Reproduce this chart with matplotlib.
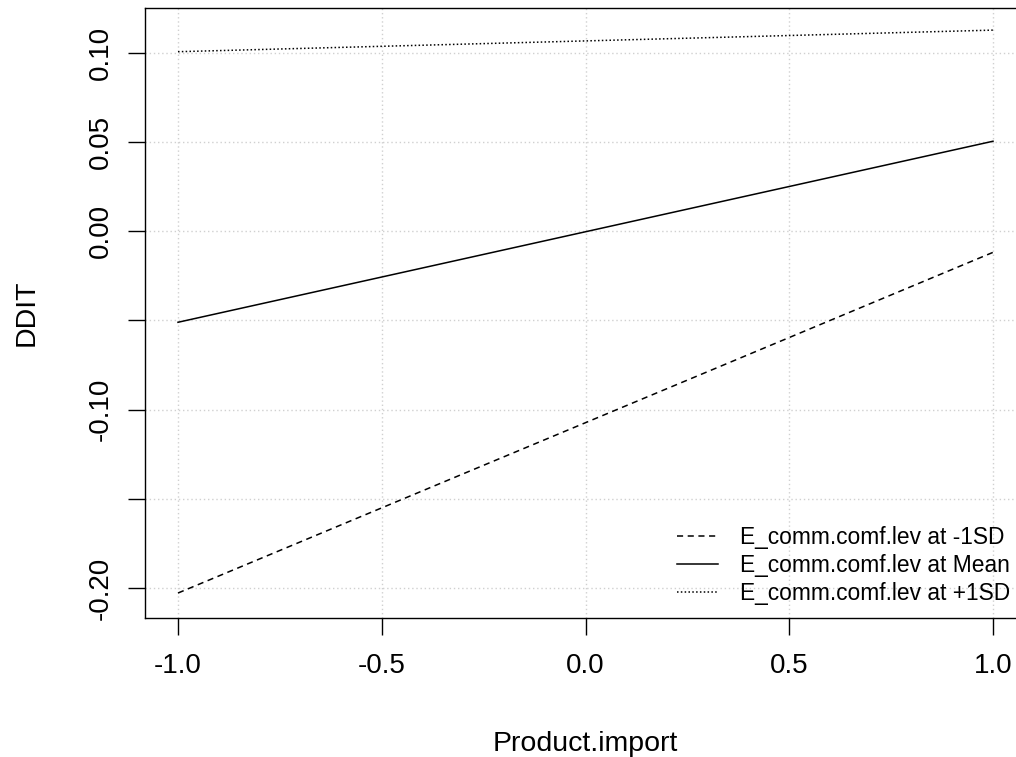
import matplotlib
matplotlib.use("Agg")
import matplotlib.pyplot as plt

plt.rcParams["font.family"] = ["Liberation Sans", "DejaVu Sans"]

# simple slopes of DDIT on Product.import
x_vals = [-1.0, 1.0]
minus_sd = [-0.2028, -0.0118]
at_mean = [-0.0510, 0.0505]
plus_sd = [0.1007, 0.1128]
labels = ["E_comm.comf.lev at -1SD", "E_comm.comf.lev at Mean", "E_comm.comf.lev at +1SD"]

x_ticks = [-1.0, -0.5, 0.0, 0.5, 1.0]
y_ticks = [-0.20, -0.15, -0.10, -0.05, 0.00, 0.05, 0.10]
y_ticklabels = ["-0.20", "", "-0.10", "", "0.00", "0.05", "0.10"]

W, H = 1016, 757
fig = plt.figure(figsize=(W / 100, H / 100), dpi=100)
left, right, top, bottom = 145, 1026, 8, 618
ax = fig.add_axes([left / W, 1 - bottom / H, (right - left) / W, (bottom - top) / H])

ax.plot(x_vals, minus_sd, color="black", lw=1.1, linestyle=(0, (4, 3)), label=labels[0])
ax.plot(x_vals, at_mean, color="black", lw=1.1, linestyle="-", label=labels[1])
ax.plot(x_vals, plus_sd, color="black", lw=1.1, linestyle=(0, (1, 1.5)), label=labels[2])

ax.set_xlim(-1.081, 1.081)
ax.set_ylim(-0.2168, 0.1252)
ax.set_xticks(x_ticks, labels=["%.1f" % v for v in x_ticks])
ax.set_yticks(y_ticks, labels=y_ticklabels)
for lab in ax.get_yticklabels():
    lab.set_rotation(90)
    lab.set_va("center")

ax.grid(True, color="#d0d0d0", linestyle=(0, (1, 2)), lw=1.0)
ax.tick_params(direction="out", length=12.5, width=1.0, labelsize=20, pad=13)
ax.tick_params(axis="y", pad=10)
for s in ax.spines.values():
    s.set_linewidth(1.0)

ax.set_xlabel("Product.import", fontsize=20.5, labelpad=37)
ax.set_ylabel("DDIT", fontsize=20.5, labelpad=35)

ax.legend(loc="upper left", bbox_to_anchor=(677 / W, 1 - 526 / H),
          bbox_transform=fig.transFigure, frameon=False, fontsize=16.4,
          handlelength=1.8, handletextpad=0.96, labelspacing=0.22,
          borderpad=0, borderaxespad=0)

fig.savefig("out.png", dpi=100)
